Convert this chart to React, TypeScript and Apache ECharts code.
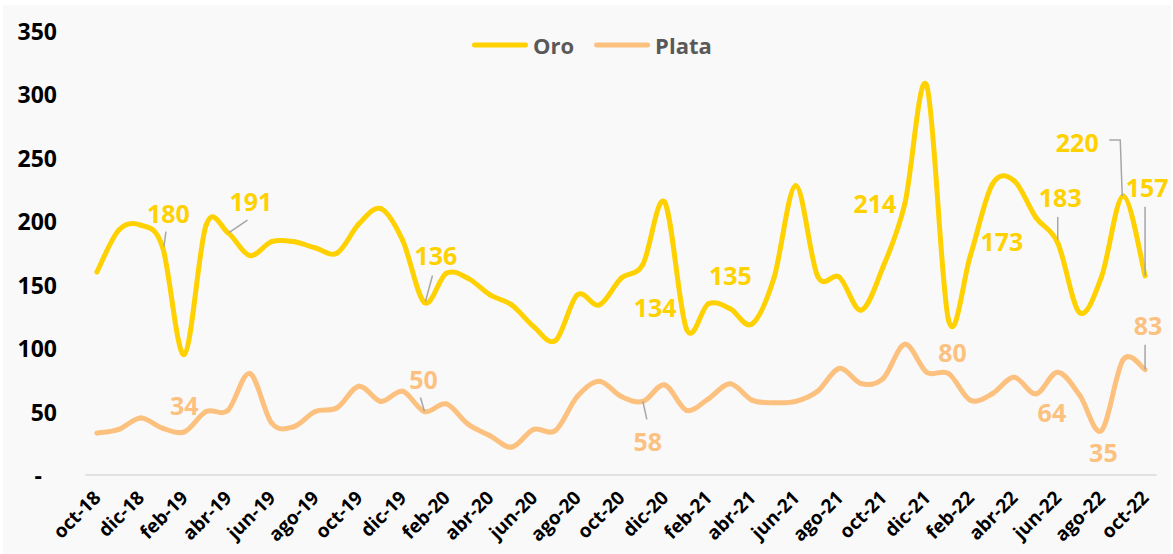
import React, { useEffect, useRef } from "react";
import * as echarts from "echarts";

const months = [
  "oct-18","nov-18","dic-18","ene-19","feb-19","mar-19","abr-19","may-19","jun-19","jul-19","ago-19","sep-19",
  "oct-19","nov-19","dic-19","ene-20","feb-20","mar-20","abr-20","may-20","jun-20","jul-20","ago-20","sep-20",
  "oct-20","nov-20","dic-20","ene-21","feb-21","mar-21","abr-21","may-21","jun-21","jul-21","ago-21","sep-21",
  "oct-21","nov-21","dic-21","ene-22","feb-22","mar-22","abr-22","may-22","jun-22","jul-22","ago-22","sep-22",
  "oct-22",
];

const oro = [
  160, 193, 197, 180, 95, 197, 191, 173, 184, 184, 179, 175,
  198, 210, 185, 136, 159, 155, 142, 134, 117, 106, 142, 134,
  155, 166, 215, 115, 135, 131, 119, 155, 228, 157, 156, 130,
  164, 214, 307, 122, 173, 229, 232, 203, 183, 128, 156, 220,
  157,
];

const plata = [
  33, 36, 45, 37, 34, 50, 51, 80, 41, 38, 50, 53,
  70, 58, 66, 50, 56, 40, 31, 22, 36, 35, 62, 74,
  62, 58, 71, 51, 60, 72, 59, 57, 58, 66, 84, 72,
  76, 103, 81, 80, 59, 64, 77, 64, 81, 63, 35, 91,
  83,
];

const yTicks = [0, 50, 100, 150, 200, 250, 300, 350];

// annotation placement (pixel offsets from the data point)
const oroNotes = [
  { i: 3, dx: 6, dy: -34, leader: [[1.5, 0], [3.5, -15]] },
  { i: 6, dx: 23, dy: -32, leader: [[1, 0], [19.5, -12.5]] },
  { i: 15, dx: 11.5, dy: -47, leader: [[1, -1], [8, -27]] },
  { i: 23, dx: 56, dy: 2, leader: null },
  { i: 28, dx: 22, dy: -29, leader: null },
  { i: 37, dx: -30, dy: -1, leader: null },
  { i: 40, dx: 31.5, dy: -14.5, leader: null },
  { i: 44, dx: 2.5, dy: -46, leader: [[0, -3], [0, -26]] },
  { i: 47, dx: -46, dy: -54, leader: [[-1, 0], [-3, -56], [-14, -56]] },
  { i: 48, dx: 2, dy: -89, leader: [[0, 0], [0, -69]] },
];

const plataNotes = [
  { i: 4, dx: 0, dy: -27, leader: null },
  { i: 15, dx: -1, dy: -33, leader: [[0, 0], [-4, -14]] },
  { i: 25, dx: 5, dy: 40, leader: [[0, 0], [4, 18]] },
  { i: 39, dx: 4, dy: -22, leader: null },
  { i: 43, dx: 16, dy: 18, leader: null },
  { i: 46, dx: 2, dy: 21, leader: null },
  { i: 48, dx: 3, dy: -45, leader: [[0, 0], [0, -25]] },
];

const ORO = "#FFD100";
const PLATA = "#FCC17F";
const FONT = '"Open Sans", "Noto Sans", sans-serif';
const LEGEND_ICON =
  "path://M0,2.5 A2.5,2.5 0 0 1 2.5,0 L53.5,0 A2.5,2.5 0 0 1 53.5,5 L2.5,5 A2.5,2.5 0 0 1 0,2.5 Z";

// Excel-like smoothed line (Catmull-Rom segments) through the data points
function curveSeries(name: string, values: number[], color: string, z: number) {
  const n = values.length;
  return {
    type: "custom",
    name,
    z,
    silent: true,
    itemStyle: { color },
    data: values.map((v, i) => [i, v]),
    renderItem: (params: any, api: any) => {
      const i = params.dataIndex;
      if (i >= n - 1) return { type: "group", children: [] };
      const P = (k: number) => {
        const c = Math.max(0, Math.min(n - 1, k));
        return api.coord([c, values[c]]);
      };
      const p0 = P(i - 1), p1 = P(i), p2 = P(i + 1), p3 = P(i + 2);
      return {
        type: "bezierCurve",
        shape: {
          x1: p1[0], y1: p1[1],
          x2: p2[0], y2: p2[1],
          cpx1: p1[0] + (p2[0] - p0[0]) / 6,
          cpy1: p1[1] + (p2[1] - p0[1]) / 6,
          cpx2: p2[0] - (p3[0] - p1[0]) / 6,
          cpy2: p2[1] - (p3[1] - p1[1]) / 6,
        },
        style: { stroke: color, lineWidth: 5, lineCap: "round", lineJoin: "round", fill: null },
      };
    },
  };
}

function noteSeries(name: string, values: number[], notes: any[], color: string) {
  return {
    type: "custom",
    name,
    z: 10,
    clip: false,
    silent: true,
    data: notes.map((n) => [n.i, values[n.i]]),
    renderItem: (params: any, api: any) => {
      const n = notes[params.dataIndex];
      const p = api.coord([api.value(0), api.value(1)]);
      const children: any[] = [];
      if (n.leader) {
        children.push({
          type: "polyline",
          shape: { points: n.leader.map((q: number[]) => [p[0] + q[0], p[1] + q[1]]) },
          style: { stroke: "#A6A6A6", lineWidth: 1.5, fill: null },
        });
      }
      children.push({
        type: "text",
        x: p[0] + n.dx,
        y: p[1] + n.dy,
        style: {
          text: String(api.value(1)),
          fill: color,
          fontSize: 25,
          fontWeight: "bold",
          fontFamily: FONT,
          align: "center",
          verticalAlign: "middle",
        },
      });
      return { type: "group", children };
    },
  };
}

export default function App() {
  const ref = useRef<HTMLDivElement>(null);
  useEffect(() => {
    if (!ref.current) return;
    const chart = echarts.init(ref.current, null, { renderer: "svg" });
    chart.setOption({
      animation: false,
      backgroundColor: "#ffffff",
      graphic: [
        {
          type: "rect",
          z: -10,
          silent: true,
          shape: { x: 3, y: 5, width: 1168, height: 549 },
          style: { fill: "#F9F9F9" },
        },
      ],
      legend: {
        data: [
          { name: "Oro", icon: LEGEND_ICON },
          { name: "Plata", icon: LEGEND_ICON },
        ],
        left: 467,
        top: 29,
        itemWidth: 56,
        itemHeight: 5,
        itemGap: 20,
        textStyle: { fontSize: 22, fontWeight: "bold", color: "#595959", fontFamily: FONT },
      },
      grid: { left: 86, right: 17, top: 31, bottom: 79, containLabel: false },
      xAxis: {
        type: "category",
        data: months,
        boundaryGap: true,
        axisLine: { lineStyle: { color: "#D9D9D9", width: 1.5 } },
        axisTick: { interval: 1, length: 5, lineStyle: { color: "#D9D9D9", width: 1.5 } },
        axisLabel: {
          interval: 1,
          rotate: 45,
          margin: 19,
          fontSize: 19,
          fontWeight: "bold",
          color: "#000000",
          fontFamily: FONT,
        },
      },
      yAxis: {
        type: "value",
        min: yTicks[0],
        max: yTicks[yTicks.length - 1],
        interval: 50,
        splitLine: { show: false },
        axisLine: { show: false },
        axisTick: { show: false },
        axisLabel: {
          margin: 29,
          fontSize: 23,
          fontWeight: "bold",
          color: "#000000",
          fontFamily: FONT,
          formatter: (v: number) => (v === 0 ? "{d|-}" : String(v)),
          rich: {
            d: { fontSize: 23, fontWeight: "bold", color: "#000000", fontFamily: FONT, padding: [0, 15, 0, 0] },
          },
        },
      },
      series: [
        curveSeries("Plata", plata, PLATA, 2),
        curveSeries("Oro", oro, ORO, 3),
        noteSeries("oroNotes", oro, oroNotes, ORO),
        noteSeries("plataNotes", plata, plataNotes, PLATA),
      ],
    });
    return () => chart.dispose();
  }, []);
  return (
    <div style={{ position: "fixed", left: 0, top: 0, width: 1173, height: 554 }}>
      <div ref={ref} style={{ width: 1173, height: 554 }} />
    </div>
  );
}
